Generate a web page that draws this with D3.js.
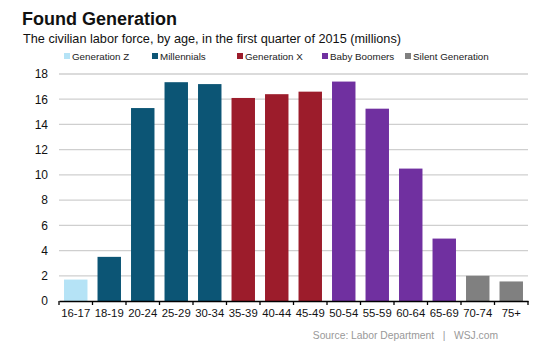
<!DOCTYPE html>
<html>
<head>
<meta charset="utf-8">
<script src="https://cdn.jsdelivr.net/npm/d3@7"></script>
<style>
  body { margin: 0; background: #fff; }
  text { font-family: "Liberation Sans", Arial, sans-serif; }
</style>
</head>
<body>
<div id="chart"></div>
<script>
// data
var ages = ['16-17', '18-19', '20-24', '25-29', '30-34', '35-39', '40-44', '45-49',
            '50-54', '55-59', '60-64', '65-69', '70-74', '75+'];
var workers = [1.7, 3.5, 15.3, 17.35, 17.2, 16.1, 16.4, 16.6, 17.4, 15.25, 10.5, 4.95, 2.0, 1.55];
var generation = ['Generation Z', 'Millennials', 'Millennials', 'Millennials', 'Millennials',
                  'Generation X', 'Generation X', 'Generation X',
                  'Baby Boomers', 'Baby Boomers', 'Baby Boomers', 'Baby Boomers',
                  'Silent Generation', 'Silent Generation'];
var groups = ['Generation Z', 'Millennials', 'Generation X', 'Baby Boomers', 'Silent Generation'];
var yTicks = [0, 2, 4, 6, 8, 10, 12, 14, 16, 18];

var data = ages.map(function(a, i) {
    return {age: a, value: workers[i], gen: generation[i]};
});

var W = 550, H = 350;
var margin = {top: 74, right: 22, bottom: 49, left: 59},
    width = W - margin.left - margin.right,
    height = H - margin.top - margin.bottom;

var svg = d3.select("#chart")
    .append("svg")
    .attr("width", W)
    .attr("height", H);

// title & subtitle
svg.append("text")
    .attr("x", 22)
    .attr("y", 25)
    .style("font-size", "18px")
    .style("font-weight", "bold")
    .attr("fill", "#111")
    .text("Found Generation");

svg.append("text")
    .attr("x", 23)
    .attr("y", 43)
    .style("font-size", "12.7px")
    .attr("fill", "#111")
    .text("The civilian labor force, by age, in the first quarter of 2015 (millions)");

// colours
var color = d3.scaleOrdinal()
    .domain(groups)
    .range(['#b5e3f6', '#0c5575', '#9c1c2b', '#7030a0', '#808080']);

// legend
var legendX = [64, 152, 237, 322, 405];
var legend = svg.selectAll("g.legend")
    .data(groups)
    .enter()
    .append("g")
    .attr("class", "legend")
    .attr("transform", function(d, i) { return "translate(" + legendX[i] + ",57)"; });

legend.append("rect")
    .attr("x", 0)
    .attr("y", -4)
    .attr("width", 6)
    .attr("height", 6)
    .attr("fill", function(d) { return color(d); });

legend.append("text")
    .attr("x", 8)
    .attr("y", 3)
    .style("font-size", "9.8px")
    .attr("fill", "#222")
    .text(function(d) { return d; });

var g = svg.append("g")
    .attr("transform", "translate(" + margin.left + "," + margin.top + ")");

// scales
var x = d3.scaleBand()
    .domain(ages)
    .range([0, width])
    .paddingInner(0.3)
    .paddingOuter(0.15);

var y = d3.scaleLinear()
    .domain([0, 18])
    .range([height, 0]);

// gridlines
g.append("g")
    .selectAll("line")
    .data(yTicks.slice(1))
    .enter()
    .append("line")
    .attr("x1", 0)
    .attr("x2", width)
    .attr("y1", function(d) { return y(d); })
    .attr("y2", function(d) { return y(d); })
    .attr("stroke", "#cfcfcf")
    .attr("stroke-width", 1.3);

// y axis labels
var yAxis = g.append("g")
    .call(d3.axisLeft(y).tickValues(yTicks).tickSize(0).tickPadding(11));
yAxis.select(".domain").remove();
yAxis.selectAll("text")
    .style("font-size", "12px")
    .style("font-family", "'Liberation Sans', Arial, sans-serif")
    .attr("fill", "#111");

// bars
g.selectAll("rect.bar")
    .data(data)
    .enter()
    .append("rect")
    .attr("class", "bar")
    .attr("x", function(d) { return x(d.age); })
    .attr("y", function(d) { return y(d.value); })
    .attr("width", x.bandwidth())
    .attr("height", function(d) { return height - y(d.value); })
    .attr("fill", function(d) { return color(d.gen); });

// x axis
var xAxis = g.append("g")
    .attr("transform", "translate(0," + height + ")")
    .call(d3.axisBottom(x).tickSize(0).tickPadding(8));
xAxis.select(".domain")
    .attr("stroke", "#000")
    .attr("stroke-width", 1.5);
xAxis.selectAll("text")
    .style("font-size", "11.3px")
    .style("font-family", "'Liberation Sans', Arial, sans-serif")
    .attr("fill", "#111");

// tick marks between the bands
var bounds = d3.range(ages.length + 1).map(function(i) { return i * width / ages.length; });
xAxis.append("g")
    .selectAll("line")
    .data(bounds)
    .enter()
    .append("line")
    .attr("x1", function(d) { return d; })
    .attr("x2", function(d) { return d; })
    .attr("y1", 0)
    .attr("y2", 4)
    .attr("stroke", "#000")
    .attr("stroke-width", 1.3);

// source
svg.append("text")
    .attr("x", 498)
    .attr("y", 339)
    .attr("text-anchor", "end")
    .style("font-size", "10.3px")
    .style("white-space", "pre")
    .attr("fill", "#999")
    .text("Source: Labor Department   |   WSJ.com");
</script>
</body>
</html>
